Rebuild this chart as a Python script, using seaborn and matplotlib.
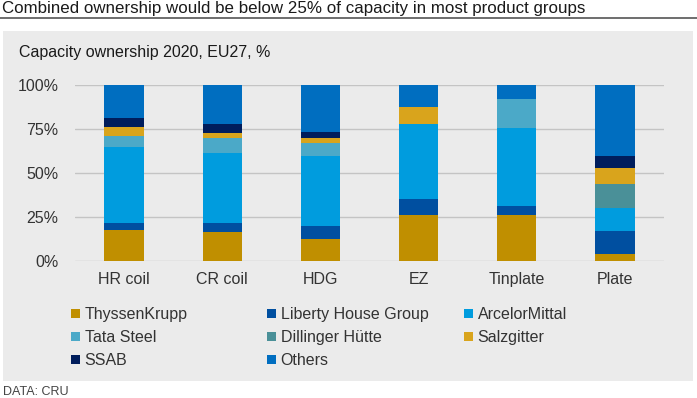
import matplotlib
matplotlib.use("Agg")
import matplotlib.pyplot as plt
import seaborn as sns
import numpy as np
import pandas as pd
from matplotlib.patches import Rectangle
from matplotlib.lines import Line2D

categories = ["HR coil", "CR coil", "HDG", "EZ", "Tinplate", "Plate"]
series_names = ["ThyssenKrupp", "Liberty House Group", "ArcelorMittal", "Tata Steel",
                "Dillinger Hütte", "Salzgitter", "SSAB", "Others"]
thyssenkrupp = [17.8, 16.5, 12.7, 26.4, 26.4, 3.8]
liberty = [3.6, 4.9, 7.0, 9.1, 4.9, 13.1]
arcelormittal = [43.3, 40.1, 39.9, 42.3, 44.2, 13.3]
tata_steel = [6.5, 8.3, 7.6, 0.0, 16.7, 0.0]
dillinger = [0.0, 0.0, 0.0, 0.0, 0.0, 13.4]
salzgitter = [4.7, 3.2, 2.8, 9.7, 0.0, 9.0]
ssab = [5.3, 4.7, 3.1, 0.0, 0.0, 7.2]
others = [18.8, 22.2, 26.9, 12.5, 7.8, 40.2]
ytick_labels = ["0%", "25%", "50%", "75%", "100%"]

colors = ["#C08F00", "#004FA0", "#009CDE", "#4BA9C8", "#4A9098", "#D9A41C", "#001D5C", "#006EC0"]

data = pd.DataFrame({
    "ThyssenKrupp": thyssenkrupp,
    "Liberty House Group": liberty,
    "ArcelorMittal": arcelormittal,
    "Tata Steel": tata_steel,
    "Dillinger Hütte": dillinger,
    "Salzgitter": salzgitter,
    "SSAB": ssab,
    "Others": others,
}, index=categories)
cum = data.cumsum(axis=1)

sns.set_theme(style="white")
plt.rcParams["font.family"] = ["Liberation Sans", "DejaVu Sans"]

W, H = 697, 398
fig = plt.figure(figsize=(W / 100, H / 100), dpi=100)
fig.patch.set_facecolor("white")

def fx(px):
    return px / W

def fy(py):
    return 1 - py / H

# grey panel
fig.patches.append(Rectangle((fx(3), fy(381)), fx(693) - fx(3), fy(31) - fy(381),
                             transform=fig.transFigure, facecolor="#EBEBEB",
                             edgecolor="none", zorder=-10))
# title + rule
fig.text(fx(2), fy(8), "Combined ownership would be below 25% of capacity in most product groups",
         fontsize=12.2, color="#1A1A1A", va="center", ha="left")
fig.add_artist(Line2D([0, 1], [fy(17.7), fy(17.7)], transform=fig.transFigure,
                      color="#555555", lw=1.2))
fig.text(fx(19), fy(53), "Capacity ownership 2020, EU27, %", fontsize=11.5,
         color="#1A1A1A", va="center", ha="left")
fig.text(fx(3), fy(392), "DATA: CRU", fontsize=9, color="#444444", va="center", ha="left")

ax = fig.add_axes([fx(75), fy(261), fx(664) - fx(75), fy(85) - fy(261)])
ax.set_facecolor("none")
ax.set_zorder(5)

for i in range(len(series_names) - 1, -1, -1):
    name = series_names[i]
    df = pd.DataFrame({"cat": categories, "val": cum[name].values})
    sns.barplot(data=df, x="cat", y="val", color=colors[i], width=0.4,
                saturation=1, ax=ax, zorder=3, edgecolor="none", linewidth=0)

ax.set_xlim(-0.5, len(categories) - 0.5)
ax.set_ylim(0, 100)
ax.set_yticks([0, 25, 50, 75, 100])
ax.set_yticklabels(ytick_labels)
ax.yaxis.grid(True, color="#C4C4C4", lw=1, zorder=0)
ax.set_axisbelow(True)
for s in ax.spines.values():
    s.set_visible(False)
ax.tick_params(axis="both", length=0, labelsize=11.5, colors="#333333")
ax.tick_params(axis="y", pad=12)
ax.tick_params(axis="x", pad=8)
ax.set_xlabel("")
ax.set_ylabel("")

# legend: three columns
col_x = [75, 271, 468]
cols = [[0, 3, 6], [1, 4, 7], [2, 5]]
for cx, idxs in zip(col_x, cols):
    handles = [Rectangle((0, 0), 1, 1, facecolor=colors[k], edgecolor="none") for k in idxs]
    labels = [series_names[k] for k in idxs]
    leg = fig.legend(handles, labels, loc="upper left",
                     bbox_to_anchor=(fx(cx - 4), fy(307)), frameon=False,
                     fontsize=11.5, handlelength=0.55, handleheight=0.55,
                     handletextpad=0.3, labelspacing=0.5, borderpad=0, borderaxespad=0)
    for t in leg.get_texts():
        t.set_color("#333333")

fig.savefig("out.png", dpi=100, facecolor="white")
